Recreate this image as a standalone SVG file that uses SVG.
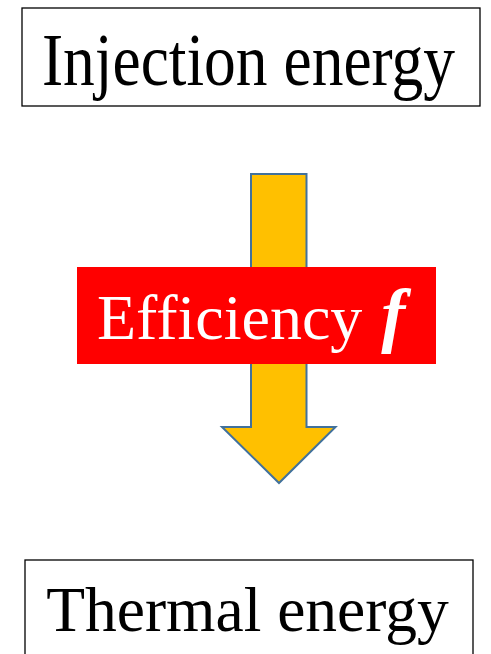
<svg xmlns="http://www.w3.org/2000/svg" width="491" height="654" viewBox="0 0 491 654">
<style>
.box{fill:#fff;stroke:#000;stroke-width:1.3}
.t{font-family:"Liberation Serif","Times New Roman",serif;fill:#000;text-anchor:middle}
</style>
<rect width="491" height="654" fill="#fff"/>
<g id="connectors">
<path d="M251,174 H306.5 V427 H335.5 L279,483 L222,427 H251 Z" fill="#FFC000" stroke="#41719C" stroke-width="2" stroke-linejoin="miter"/>
</g>
<g id="injection">
<rect class="box" x="22" y="8" width="458" height="98"/>
<text class="t" transform="translate(248.5,85) scale(1,1.15)" x="0" y="0" font-size="63.5">Injection energy</text>
</g>
<g id="efficiency">
<rect x="77" y="267" width="359" height="97" fill="#FF0000"/>
<text x="97" y="339" font-family="Liberation Serif,Times New Roman,serif" font-size="64" fill="#fff">Efficiency <tspan font-weight="bold" font-style="italic" font-size="72" dx="3">f</tspan></text>
</g>
<g id="thermal">
<rect class="box" x="25" y="560" width="448" height="110"/>
<text class="t" x="247.5" y="631" font-size="63.5">Thermal energy</text>
</g>
</svg>
